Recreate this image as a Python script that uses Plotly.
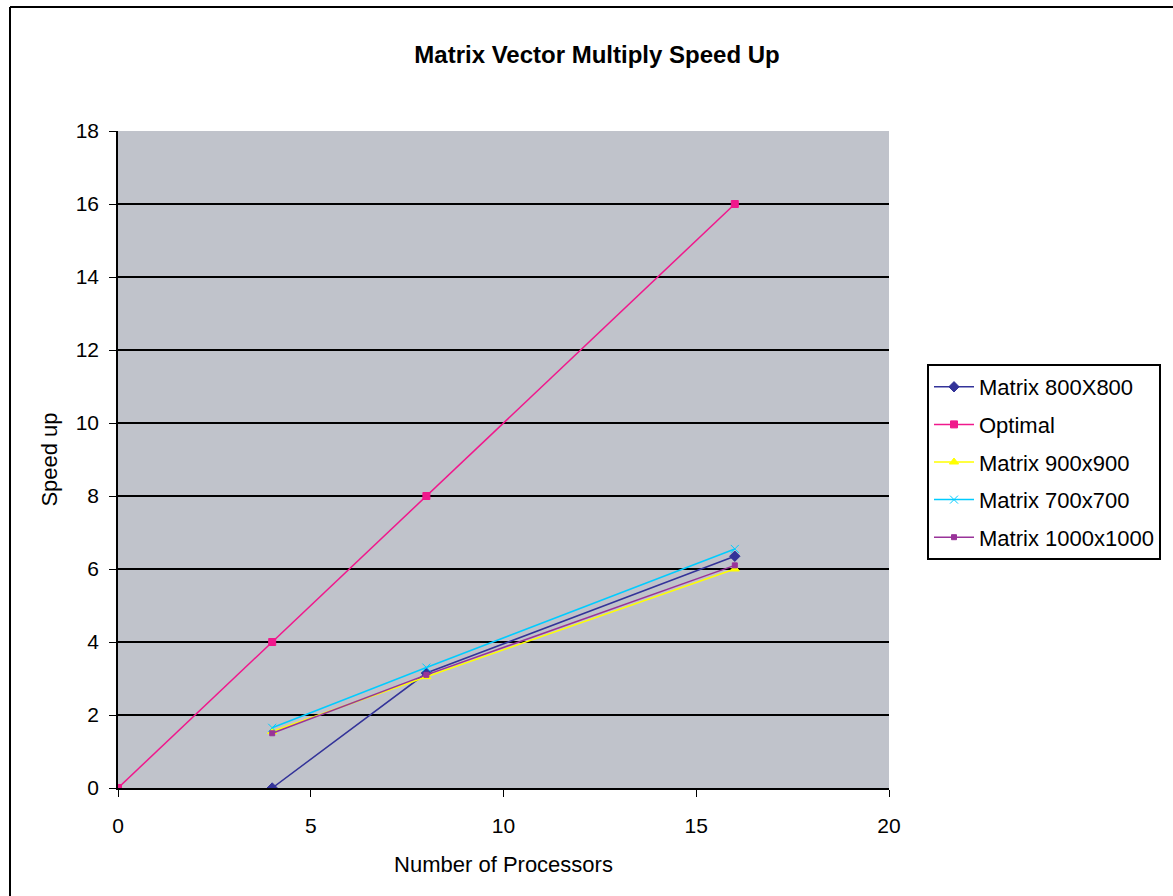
import plotly.graph_objects as go

processors = [4, 8, 16]
optimal_x = [0, 4, 8, 16]
optimal_y = [0, 4, 8, 16]
m800 = [0.0, 3.15, 6.35]
m900 = [1.55, 3.05, 6.0]
m700 = [1.65, 3.3, 6.55]
m1000 = [1.5, 3.1, 6.1]

W, H = 1173, 896
L, R, T, B = 118, 889, 131, 788
pw, ph = R - L, B - T

font = "Liberation Sans, Arial, sans-serif"
fig = go.Figure()

def add(name, x, y, color, symbol, size):
    fig.add_trace(go.Scatter(x=x, y=y, name=name, mode="lines+markers", legendgroup=name,
                             line=dict(color=color, width=1.5),
                             marker=dict(color=color, symbol=symbol, size=size,
                                         line=dict(color=color, width=1))))

add("Matrix 800X800", processors, m800, "#333399", "diamond", 8)
add("Optimal", optimal_x, optimal_y, "#F0188C", "square", 7)
add("Matrix 900x900", processors, m900, "#FFFF00", "triangle-up", 8)
add("Matrix 700x700", processors, m700, "#00CCFF", "x-thin-open", 8)
add("Matrix 1000x1000", processors, m1000, "#993399", "square", 5)

fig.update_layout(
    width=W, height=H,
    margin=dict(l=L, r=W - R, t=T, b=H - B),
    paper_bgcolor="white",
    plot_bgcolor="#C0C3CB",
    font=dict(family=font, size=21, color="black"),
    title=dict(text="<b>Matrix Vector Multiply Speed Up</b>", x=597 / W, xanchor="center",
               y=1 - 55 / H, yanchor="middle", font=dict(size=24)),
    showlegend=True,
    legend=dict(x=(927 - L) / pw, xanchor="left", y=(B - 364) / ph, yanchor="top",
                bgcolor="white", bordercolor="black", borderwidth=2,
                font=dict(size=22), tracegroupgap=6, itemwidth=40),
    xaxis=dict(range=[0, 20], tickvals=[0, 5, 10, 15, 20], showgrid=False, zeroline=False,
               showline=True, linecolor="black", linewidth=1.5, ticks="outside",
               ticklen=7, tickcolor="black", ticklabelstandoff=11,
               title=dict(text="Number of Processors", standoff=21, font=dict(size=22))),
    yaxis=dict(range=[0, 18], tickvals=list(range(0, 19, 2)), showgrid=True,
               gridcolor="black", gridwidth=1.5, zeroline=False,
               showline=True, linecolor="black", linewidth=1.5, ticks="outside",
               ticklen=7, tickcolor="black", ticklabelstandoff=6,
               title=dict(text="Speed up", standoff=12, font=dict(size=22))),
    shapes=[
        dict(type="line", xref="paper", yref="paper", x0=(10 - L) / pw, x1=(W + 20 - L) / pw,
             y0=(B - 7) / ph, y1=(B - 7) / ph, line=dict(color="black", width=2)),
        dict(type="line", xref="paper", yref="paper", x0=(10 - L) / pw, x1=(10 - L) / pw,
             y0=(B - 7) / ph, y1=(B - H - 20) / ph, line=dict(color="black", width=2)),
    ],
)

fig.write_html("out.html")
